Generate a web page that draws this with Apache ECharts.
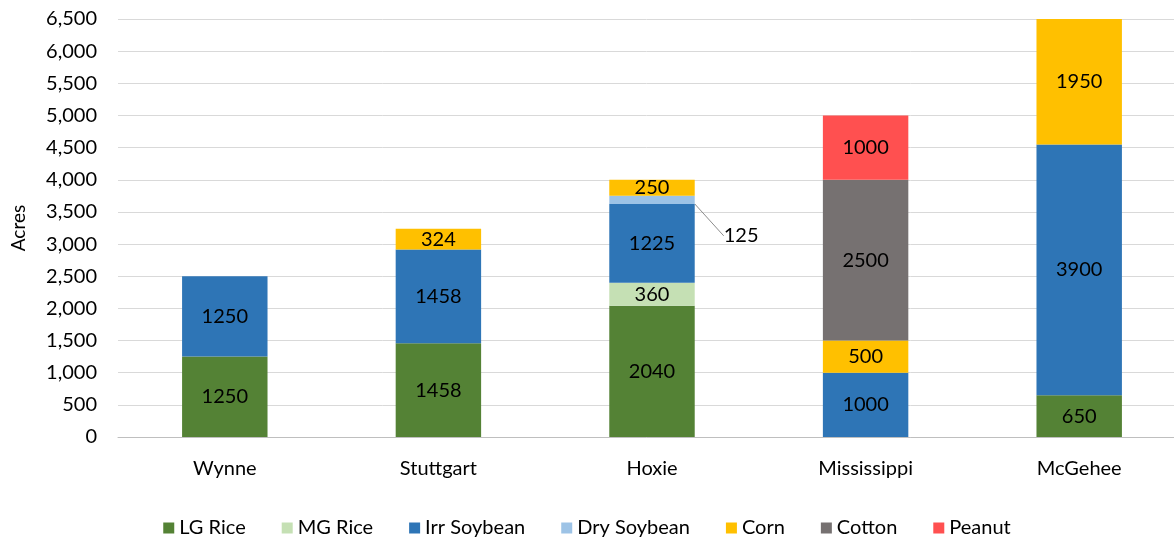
<!DOCTYPE html>
<html>
<head>
<meta charset="utf-8">
<script src="https://cdn.jsdelivr.net/npm/echarts@6/dist/echarts.min.js"></script>
<style>
  html, body { margin: 0; padding: 0; background: #fff; }
  #chart { width: 1174px; height: 543px; }
</style>
</head>
<body>
<div id="chart"></div>
<script>
const categories = ['Wynne', 'Stuttgart', 'Hoxie', 'Mississippi', 'McGehee'];
const lgRice     = [1250, 1458, 2040, null, 650];
const mgRice     = [null, null, 360, null, null];
const irrSoybean = [1250, 1458, 1225, 1000, 3900];
const drySoybean = [null, null, 125, null, null];
const corn       = [null, 324, 250, 500, 1950];
const cotton     = [null, null, null, 2500, null];
const peanut     = [null, null, null, 1000, null];
const yTicks = { min: 0, max: 6500, interval: 500 };

const font = 'Lato, "DejaVu Sans", sans-serif';

const chart = echarts.init(document.getElementById('chart'));

function stackSeries(name, data, color, extra) {
    return Object.assign({
        name: name,
        type: 'bar',
        stack: 'acres',
        barWidth: '40%',
        itemStyle: { color: color },
        label: {
            show: true,
            position: 'inside',
            color: '#000',
            fontSize: 20,
            fontFamily: font,
            formatter: p => p.value
        },
        data: data
    }, extra || {});
}

const option = {
    animation: false,
    textStyle: { fontFamily: font },
    grid: { left: 118, width: 1068, top: 19, bottom: 106, outerBoundsMode: 'none' },
    legend: {
        bottom: 0,
        left: 'center',
        icon: 'rect',
        itemWidth: 11,
        itemHeight: 11,
        itemGap: 36,
        textStyle: { fontSize: 20, color: '#000', fontFamily: font }
    },
    xAxis: {
        type: 'category',
        data: categories,
        axisLine: { lineStyle: { color: '#bfbfbf' } },
        axisTick: { show: false },
        axisLabel: { fontSize: 20, color: '#000', margin: 22, fontFamily: font }
    },
    yAxis: {
        type: 'value',
        min: yTicks.min,
        max: yTicks.max,
        interval: yTicks.interval,
        name: 'Acres',
        nameLocation: 'middle',
        nameGap: 90,
        nameTextStyle: { fontSize: 19, color: '#000', fontFamily: font },
        axisLabel: {
            fontSize: 20,
            color: '#000',
            margin: 21,
            fontFamily: font,
            formatter: v => v.toLocaleString('en-US')
        },
        splitLine: { lineStyle: { color: '#d9d9d9' } }
    },
    series: [
        stackSeries('LG Rice', lgRice, '#548235'),
        stackSeries('MG Rice', mgRice, '#c5e0b4'),
        stackSeries('Irr Soybean', irrSoybean, '#2e75b6'),
        stackSeries('Dry Soybean', drySoybean, '#9dc3e6', {
            label: {
                show: true,
                position: 'right',
                color: '#000',
                fontSize: 20,
                fontFamily: font,
                formatter: p => p.value
            },
            labelLine: { show: true, lineStyle: { color: '#8c8c8c', width: 1 } },
            labelLayout: { dx: 24, dy: 36 }
        }),
        stackSeries('Corn', corn, '#ffc000'),
        stackSeries('Cotton', cotton, '#767171'),
        stackSeries('Peanut', peanut, '#ff5050')
    ]
};

chart.setOption(option);
</script>
</body>
</html>
